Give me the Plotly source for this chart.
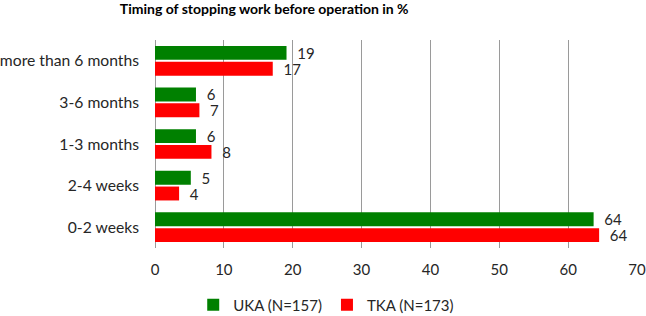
import plotly.graph_objects as go

categories = ["more than 6 months", "3-6 months", "1-3 months", "2-4 weeks", "0-2 weeks"]
uka_values = [19.1, 5.95, 5.95, 5.2, 63.7]
tka_values = [17.1, 6.45, 8.2, 3.5, 64.5]
uka_labels = ["19", "6", "6", "5", "64"]
tka_labels = ["17", "7", "8", "4", "64"]
x_ticks = [0, 10, 20, 30, 40, 50, 60, 70]

FONT = "Lato"
pad = "\u00a0\u00a0"

fig = go.Figure()
fig.add_trace(go.Bar(
    y=categories, x=uka_values, orientation="h", name="UKA (N=157)",
    marker=dict(color="#008000", line=dict(width=0)),
    text=[pad + t for t in uka_labels], textposition="outside",
    textfont=dict(family=FONT, size=15, color="#262626"),
    cliponaxis=False, constraintext="none",
))
fig.add_trace(go.Bar(
    y=categories, x=tka_values, orientation="h", name="TKA (N=173)",
    marker=dict(color="#ff0000", line=dict(width=0)),
    text=[pad + t for t in tka_labels], textposition="outside",
    textfont=dict(family=FONT, size=15, color="#262626"),
    cliponaxis=False, constraintext="none",
))

fig.update_layout(
    width=646, height=316,
    margin=dict(l=155, r=9, t=40, b=68, autoexpand=False),
    paper_bgcolor="white", plot_bgcolor="white",
    barmode="group", bargap=0.24, bargroupgap=0.12,
    title=dict(text="<b>Timing of stopping work before operation in %</b>",
               xref="container", x=0.409, xanchor="center",
               yref="container", y=0.97, yanchor="middle",
               font=dict(family=FONT, size=14, color="#000000")),
    font=dict(family=FONT, size=15, color="#262626"),
    xaxis=dict(range=[0, 70], tickvals=x_ticks, showgrid=True, automargin=False,
               gridcolor="#9a9a9a", gridwidth=1, zeroline=True,
               zerolinecolor="#9a9a9a", zerolinewidth=1, showline=False,
               ticks="", ticklabelstandoff=11,
               tickfont=dict(family=FONT, size=15, color="#262626")),
    yaxis=dict(autorange="reversed", showgrid=False, showline=False, ticks="",
               automargin=False, ticklabelstandoff=15,
               tickfont=dict(family=FONT, size=15.7, color="#262626")),
    legend=dict(orientation="h", xref="container", x=0.505, xanchor="center",
                yref="container", y=0.035, yanchor="middle",
                font=dict(family=FONT, size=15, color="#262626"),
                itemwidth=30, traceorder="normal"),
    showlegend=True,
)

fig.write_html(
    "out.html",
    config={"displayModeBar": False},
    post_script="document.body.style.margin='0';document.body.style.overflow='hidden';",
)
